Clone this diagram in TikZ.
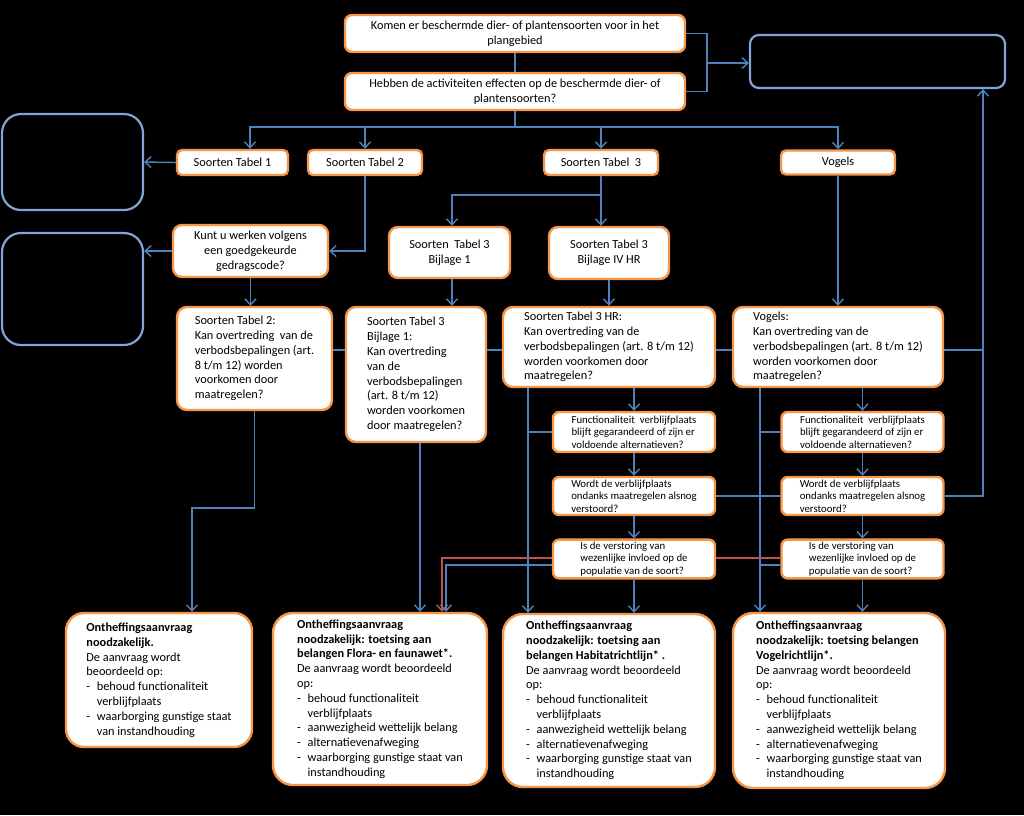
\documentclass[tikz,border=0pt]{standalone}
\usepackage{fontspec}
\setmainfont{Carlito}
\usetikzlibrary{arrows.meta}

\definecolor{boxorange}{RGB}{247,150,70}
\definecolor{linkblue}{RGB}{79,129,189}
\definecolor{emptyblue}{RGB}{130,165,215}
\definecolor{linkred}{RGB}{192,80,77}

\tikzset{wh/.style 2 args={minimum width=#1pt, minimum height=#2pt}}

\newcommand{\bdash}{\makebox[0.85em][l]{-}}
\newcommand{\bgap}{\hspace*{0.85em}}
\newcommand{\toetsing}{De aanvraag wordt beoordeeld\\op:\\\bdash behoud functionaliteit\\\bgap verblijfplaats\\\bdash aanwezigheid wettelijk belang\\\bdash alternatievenafweging\\\bdash waarborging gunstige staat van\\\bgap instandhouding}

\begin{document}
\begin{tikzpicture}[x=1pt, y=-1pt,
	qbox/.style={ draw=boxorange, fill=white, line width=2.4pt, rounded corners=10pt, inner sep=2pt, align=left, text=black },
	qboxc/.style={ qbox, align=center, rounded corners=7pt },
	qboxs/.style={ qbox, rounded corners=6pt, font=\fontsize{10.8}{12.7}\selectfont },
	ebox/.style={ draw=emptyblue, line width=2.2pt, rounded corners=19pt },
	conn/.style={ draw=linkblue, line width=1.4pt },
	connr/.style={ draw=linkred, line width=1.4pt },
	>={Straight Barb[length=6pt,width=11pt]},
	font=\fontsize{12.3}{14.8}\selectfont
]

\fill[black] (0,0) rectangle (1024,815);
\useasboundingbox (0,0) rectangle (1024,815);

\node at (515,33.5) (komen) [qboxc,wh={340}{37}] {Komen er beschermde dier- of plantensoorten voor in het\\plangebied};
\node at (515,91.5) (hebben) [qboxc,wh={340}{37}] {Hebben de activiteiten effecten op de beschermde dier- of\\plantensoorten?};
\node at (877.5,61.5) (leegr) [ebox,rounded corners=9pt,wh={255}{53}] {};
\node at (72.5,162) (leeg1) [ebox,wh={141}{96}] {};
\node at (72.5,289) (leeg2) [ebox,wh={141}{112}] {};

\node at (232.5,162.5) (st1) [qboxc,rounded corners=5pt,wh={111}{25}] {Soorten Tabel 1};
\node at (365,162.5) (st2) [qboxc,rounded corners=5pt,wh={114}{25}] {Soorten Tabel 2};
\node at (601,162.5) (st3) [qboxc,rounded corners=5pt,wh={114}{25}] {Soorten Tabel \ 3};
\node at (838,162.5) (vog) [qboxc,rounded corners=5pt,wh={114}{24}] {Vogels};

\node at (250.5,251) (kunt) [qboxc,rounded corners=9pt,wh={155}{52}] {Kunt u werken volgens\\een goedgekeurde\\gedragscode?};
\node at (449.5,252.5) (bij1) [qboxc,rounded corners=9pt,wh={121}{51}] {Soorten \ Tabel 3\\Bijlage 1};
\node at (609,253) (bij4) [qboxc,rounded corners=9pt,wh={120}{52}] {Soorten Tabel 3\\Bijlage IV HR};

\node at (254.5,358.5) (q2) [qbox,wh={155}{103}] {Soorten Tabel 2:\\Kan overtreding \ van de\\verbodsbepalingen (art.\\8 t/m 12) worden\\voorkomen door\\maatregelen?};
\node at (416,374.5) (q3b) [qbox,wh={140}{135}] {Soorten Tabel 3\\Bijlage 1:\\Kan overtreding\\van de\\verbodsbepalingen\\(art. 8 t/m 12)\\worden voorkomen\\door maatregelen?};
\node at (609,347) (q3hr) [qbox,wh={212}{80}] {Soorten Tabel 3 HR:\\Kan overtreding van de\\verbodsbepalingen (art. 8 t/m 12)\\worden voorkomen door\\maatregelen?};
\node at (838,347) (qv) [qbox,wh={210}{80}] {Vogels:\\Kan overtreding van de\\verbodsbepalingen (art. 8 t/m 12)\\worden voorkomen door\\maatregelen?};

\foreach \c/\x in {hr/634, v/862.5} {
	\node at (\x,432) (f\c) [qboxs,wh={162}{40}] {Functionaliteit \ verblijfplaats\\blijft gegarandeerd of zijn er\\voldoende alternatieven?};
	\node at (\x,496) (w\c) [qboxs,wh={162}{38}] {Wordt de verblijfplaats\\ondanks maatregelen alsnog\\verstoord?};
	\node at (\x,559) (i\c) [qboxs,wh={162}{38}] {Is de verstoring van\\wezenlijke invloed op de\\populatie van de soort?};
}

\node at (159,680) (fina) [qbox,rounded corners=18pt,wh={186}{134}] {\textbf{Ontheffingsaanvraag}\\\textbf{noodzakelijk.}\\De aanvraag wordt\\beoordeeld op:\\\bdash behoud functionaliteit\\\bgap verblijfplaats\\\bdash waarborging gunstige staat\\\bgap van instandhouding};
\node at (380,699) (finb) [qbox,rounded corners=20pt,wh={214}{172}] {\textbf{Ontheffingsaanvraag}\\\textbf{noodzakelijk: toetsing aan}\\\textbf{belangen Flora- en faunawet*.}\\\toetsing};
\node at (609,700.5) (finc) [qbox,rounded corners=20pt,wh={212}{173}] {\textbf{Ontheffingsaanvraag}\\\textbf{noodzakelijk: toetsing aan}\\\textbf{belangen Habitatrichtlijn* .}\\\toetsing};
\node at (839,700.5) (find) [qbox,rounded corners=20pt,wh={212}{175}] {\textbf{Ontheffingsaanvraag}\\\textbf{noodzakelijk: toetsing belangen}\\\textbf{Vogelrichtlijn*.}\\\toetsing};

\coordinate (jtop) at (707,63);
\coordinate (bus) at (515,127);
\coordinate (j3) at (601,195);
\coordinate (jr) at (983,350);
\coordinate (ja) at (192,508);
\coordinate (lhr) at (528,0);
\coordinate (lv) at (760,0);
\coordinate (rood) at (442,558);
\coordinate (blauw) at (446,565);

\draw[conn] (komen) -- (hebben);
\draw[conn] (komen.east) -| (jtop) |- (hebben.east);
\draw[conn,->] (jtop) -- (jtop -| leegr.west);
\draw[conn] (hebben.south) -- (bus);
\draw[conn,->] (bus) -| ([xshift=17.5pt]st1.north);
\foreach \s in {st2,st3,vog} \draw[conn,->] (bus) -| (\s.north);

\draw[conn,->] (st1.west) -- (leeg1.east);
\draw[conn,->] (st2.south) |- (kunt.east);
\draw[conn,->] (kunt.west) -- (kunt.west -| leeg2.east);
\draw[conn,->] (st3.south) -- (st3.south |- bij4.north);
\draw[conn,->] (j3) -| ([xshift=2.5pt]bij1.north);
\draw[conn,->] (vog.south) -- (vog.south |- qv.north);

\draw[conn,->] (kunt.south) -- (kunt.south |- q2.north);
\draw[conn,->] ([xshift=2.5pt]bij1.south) -- ([xshift=2.5pt]bij1.south |- q3b.north);
\draw[conn,->] (bij4.south) -- (q3hr.north);

\foreach \a/\b in {q2/q3b, q3b/q3hr, q3hr/qv} \draw[conn] (\a.east |- jr) -- (\b.west |- jr);
\draw[conn,->] (qv.east |- jr) -| (jr |- leegr.south);
\draw[conn] (wv.east) -| (jr);
\draw[conn] (whr.east) -- (wv.west);

\foreach \c/\q/\l/\f in {hr/q3hr/lhr/finc, v/qv/lv/find} {
	\draw[conn,->] (f\c.north |- \q.south) -- (f\c.north);
	\draw[conn,->] (f\c.south) -- (w\c.north);
	\draw[conn,->] (w\c.south) -- (i\c.north);
	\draw[conn,->] (i\c.south) -- (i\c.south |- \f.north);
	\draw[conn,->] (\l |- \q.south) -- (\l |- \f.north);
	\draw[conn] (\l |- f\c.west) -- (f\c.west);
}
\draw[conn] (lv |- blauw) -- (iv.west |- blauw);

\draw[connr] (iv.west |- rood) -- (ihr.east |- rood);
\draw[connr,->] (ihr.west |- rood) -| (rood |- finb.north);
\draw[conn,->] (ihr.west |- blauw) -| (blauw |- finb.north);

\draw[conn,->] (q2.south) |- (ja) -- (ja |- fina.north);
\draw[conn,->] ([xshift=4pt]q3b.south) -- ([xshift=4pt]q3b.south |- finb.north);

\end{tikzpicture}
\end{document}
